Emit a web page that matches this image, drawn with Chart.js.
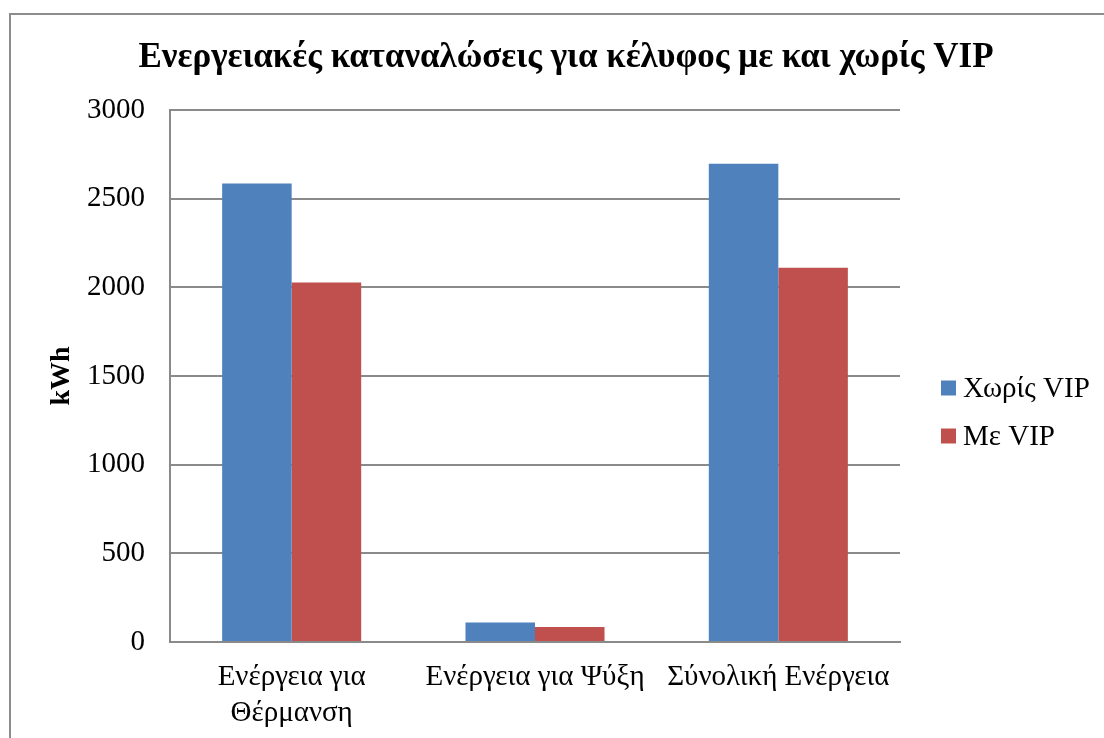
<!DOCTYPE html>
<html lang="el">
<head>
<meta charset="utf-8">
<title>Ενεργειακές καταναλώσεις</title>
<script src="https://cdn.jsdelivr.net/npm/chart.js@4.4.1/dist/chart.umd.min.js"></script>
<style>
  html, body { margin: 0; padding: 0; background: #ffffff; }
  canvas { display: block; }
</style>
</head>
<body>
<canvas id="chart" width="1104" height="738"></canvas>
<script>
// Chart data
const chartTitle = 'Ενεργειακές καταναλώσεις για κέλυφος με και χωρίς VIP';
const categories = [['Ενέργεια για', 'Θέρμανση'], 'Ενέργεια για Ψύξη', 'Σύνολική Ενέργεια'];
const seriesNames = ['Χωρίς VIP', 'Με VIP'];
const withoutVip = [2585, 110, 2697];
const withVip = [2027, 84, 2111];
const axisTitle = 'kWh';
const yMax = 3000;
const yStep = 500;

const SERIF = '"Liberation Serif", "Times New Roman", serif';
const GRID = '#8a8a8a';

// Outer frame, title and legend drawn around the plot
const decorations = {
  id: 'decorations',
  beforeDraw(chart) {
    const ctx = chart.ctx;
    ctx.save();
    ctx.fillStyle = '#ffffff';
    ctx.fillRect(0, 0, chart.width, chart.height);
    ctx.strokeStyle = '#8c8c8c';
    ctx.lineWidth = 2;
    ctx.strokeRect(10, 14, chart.width + 20, chart.height + 20);
    ctx.restore();
  },
  afterDraw(chart) {
    const ctx = chart.ctx;
    ctx.save();
    // title
    ctx.fillStyle = '#000000';
    ctx.font = 'bold 35px ' + SERIF;
    ctx.textAlign = 'center';
    ctx.textBaseline = 'middle';
    ctx.fillText(chartTitle, 566, 58);
    // legend
    ctx.font = '29px ' + SERIF;
    ctx.textAlign = 'left';
    chart.data.datasets.forEach((ds, i) => {
      const cy = 388 + i * 48;
      ctx.fillStyle = ds.backgroundColor;
      ctx.fillRect(941, cy - 7.5, 15, 15);
      ctx.fillStyle = '#000000';
      ctx.fillText(ds.label, 963, cy + 1);
    });
    ctx.restore();
  }
};

new Chart(document.getElementById('chart'), {
  type: 'bar',
  data: {
    labels: categories,
    datasets: [
      { label: seriesNames[0], data: withoutVip, backgroundColor: '#4F81BD' },
      { label: seriesNames[1], data: withVip, backgroundColor: '#C0504D' }
    ]
  },
  options: {
    responsive: false,
    animation: false,
    devicePixelRatio: 1,
    layout: { padding: { left: 0, top: 110, right: 204, bottom: 0 } },
    datasets: {
      bar: { categoryPercentage: 2 / 3.5, barPercentage: 1.0, borderWidth: 0 }
    },
    plugins: {
      legend: { display: false },
      title: { display: false },
      tooltip: { enabled: false }
    },
    scales: {
      x: {
        grid: { display: false, drawTicks: false },
        border: { display: true, color: GRID, width: 2 },
        ticks: {
          color: '#000000',
          font: { family: SERIF, size: 29, lineHeight: 1.24 },
          padding: 17,
          maxRotation: 0,
          autoSkip: false
        },
        afterFit(scale) { scale.height = 96; }
      },
      y: {
        min: 0,
        max: yMax,
        grid: { color: GRID, lineWidth: 2, drawTicks: false },
        border: { display: true, color: GRID, width: 2 },
        ticks: {
          stepSize: yStep,
          color: '#000000',
          font: { family: SERIF, size: 29 },
          padding: 25,
          callback: (value) => String(value)
        },
        title: {
          display: true,
          text: axisTitle,
          color: '#000000',
          font: { family: SERIF, size: 28, weight: 'bold' },
          padding: { top: 45, bottom: 0 }
        },
        afterFit(scale) { scale.width = 170; }
      }
    }
  },
  plugins: [decorations]
});
</script>
</body>
</html>
